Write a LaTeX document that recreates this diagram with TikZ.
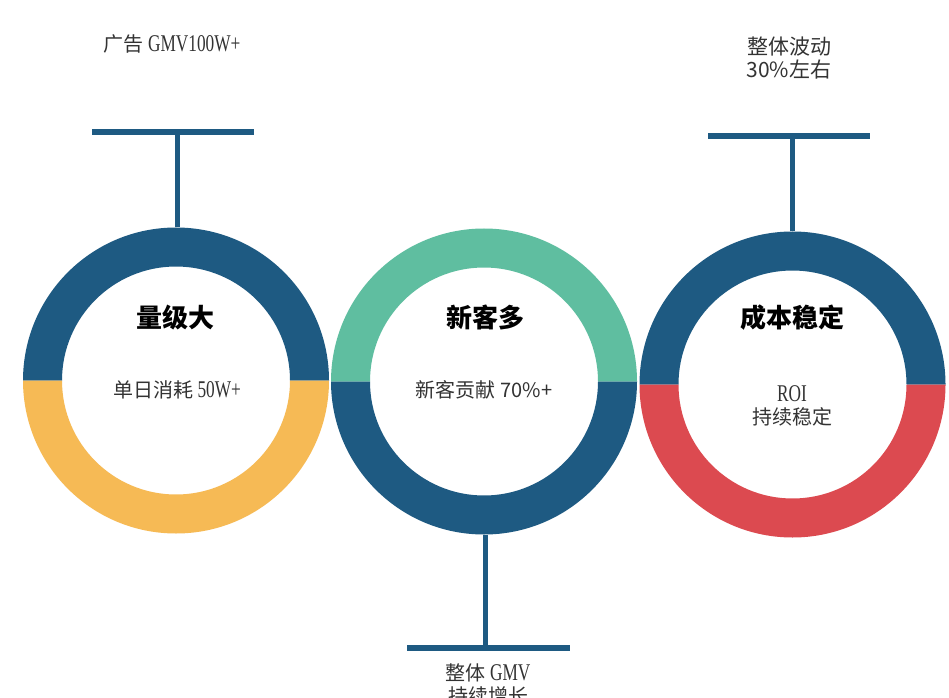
\documentclass[tikz,border=0pt]{standalone}
\usepackage{fontspec}
\setmainfont{Noto Sans CJK SC}
\newfontfamily\ser{Liberation Serif}[Scale=1.2,FakeStretch=0.72]
\definecolor{cblue}{HTML}{1E5A82}
\definecolor{cyellow}{HTML}{F6BA55}
\definecolor{cteal}{HTML}{5FBEA0}
\definecolor{cred}{HTML}{DC4A50}
\definecolor{ctext}{HTML}{333333}
\tikzset{
  pics/ring/.style n args={2}{code={
    \fill[#1] (153,0) arc (0:180:153) -- (-114,0) arc (180:0:114) -- cycle;
    \fill[#2] (153,0) arc (0:-180:153) -- (-114,0) arc (-180:0:114) -- cycle;
  }},
  stem/.style={draw=cblue, line width=5pt},
  bar/.style={draw=cblue, line width=6pt},
  title/.style={font=\fontsize{26}{30}\selectfont\bfseries, text=black, inner sep=0pt},
  info/.style={font=\fontsize{20}{23}\selectfont, text=ctext, align=center, inner sep=0pt},
}
\begin{document}
\begin{tikzpicture}[x=1pt,y=1pt]
\useasboundingbox (0,0) rectangle (949,697);
\fill[white] (0,0) rectangle (949,697);
% rings
\pic at (176,316.5) {ring={cblue}{cyellow}};
\pic at (484,315.5) {ring={cteal}{cblue}};
\pic at (792.5,312.5) {ring={cblue}{cred}};
% connector points
\coordinate (r1top) at (177,469.5);
\coordinate (t1) at (177,565);
\coordinate (t1l) at (92,565);
\coordinate (t1r) at (254,565);
\coordinate (r3top) at (792,465.5);
\coordinate (t3) at (792,561);
\coordinate (t3l) at (708,561);
\coordinate (t3r) at (870,561);
\coordinate (r2bot) at (485,162.5);
\coordinate (t2) at (485,49);
\coordinate (t2l) at (407,49);
\coordinate (t2r) at (570,49);
\draw[stem] (r1top) -- (t1);
\draw[bar] (t1l) -- (t1r);
\draw[stem] (r3top) -- (t3);
\draw[bar] (t3l) -- (t3r);
\draw[stem] (r2bot) -- (t2);
\draw[bar] (t2l) -- (t2r);
% texts
\node[info] (ad) at (172,653) {广告 {\ser GMV100W+}};
\node[info, font=\fontsize{21}{23}\selectfont] (fl) at (789,639) {整体波动\\30\%左右};
\node[title] (h1) at (175,379) {量级大};
\node[title] (h2) at (485,380) {新客多};
\node[title] (h3) at (792,379) {成本稳定};
\node[info] (s1) at (177,307) {单日消耗 {\ser 50W+}};
\node[info] (s2) at (484,307) {新客贡献 70\%+};
\node[info] (s3) at (792,291) {{\ser ROI}\\持续稳定};
\node[info] (bt) at (488,13) {整体 {\ser GMV}\\持续增长};
\end{tikzpicture}
\end{document}
